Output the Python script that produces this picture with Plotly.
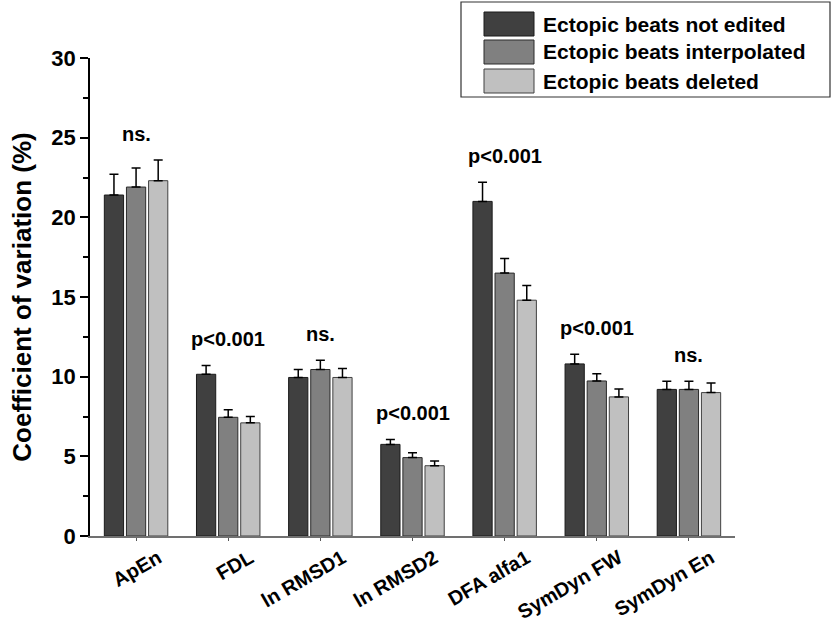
import plotly.graph_objects as go

categories = ["ApEn", "FDL", "ln RMSD1", "ln RMSD2", "DFA alfa1", "SymDyn FW", "SymDyn En"]
series_names = ["Ectopic beats not edited", "Ectopic beats interpolated", "Ectopic beats deleted"]
not_edited = [21.4, 10.15, 9.95, 5.75, 21.0, 10.8, 9.2]
not_edited_err = [1.3, 0.55, 0.5, 0.3, 1.2, 0.6, 0.52]
interpolated = [21.9, 7.45, 10.45, 4.92, 16.5, 9.73, 9.2]
interpolated_err = [1.2, 0.48, 0.58, 0.31, 0.92, 0.46, 0.52]
deleted = [22.3, 7.1, 9.95, 4.41, 14.8, 8.73, 9.0]
deleted_err = [1.3, 0.4, 0.57, 0.3, 0.92, 0.5, 0.6]
significance = ["ns.", "p<0.001", "ns.", "p<0.001", "p<0.001", "p<0.001", "ns."]
y_ticks = [0, 5, 10, 15, 20, 25, 30]

colors = ["#404040", "#808080", "#c0c0c0"]
outline = ["#1a1a1a", "#2a2a2a", "#404040"]
values = [not_edited, interpolated, deleted]
errors = [not_edited_err, interpolated_err, deleted_err]

FONT = "Liberation Sans, Arial, Helvetica, sans-serif"

W, H = 832, 625
ML, MR, MT, MB = 90, 97, 58, 89
PW, PH = W - ML - MR, H - MT - MB


def px_x(p):
    return (p - ML) / PW


def px_y(p):
    return (H - MB - p) / PH


fig = go.Figure()
for name, vals, errs, col, oc in zip(series_names, values, errors, colors, outline):
    fig.add_trace(go.Bar(
        x=categories, y=vals, name=name, showlegend=False,
        marker=dict(color=col, line=dict(color=oc, width=1)),
        error_y=dict(type="data", array=errs, arrayminus=[0] * len(errs),
                     symmetric=False, color="black", thickness=1.5, width=4.5),
    ))

for i, cat in enumerate(categories):
    top = max(v[i] + e[i] for v, e in zip(values, errors))
    fig.add_annotation(x=cat, y=top + 1.65, text=significance[i], showarrow=False,
                       yanchor="middle",
                       font=dict(family=FONT, size=20, color="black", weight="bold"))

# legend box (framed key with large swatches)
shapes = [dict(type="rect", xref="paper", yref="paper",
               x0=px_x(461), x1=px_x(830), y0=px_y(97), y1=px_y(2),
               line=dict(color="#333333", width=1.2), fillcolor="white", layer="above")]
row_tops = [12, 40, 69]
for name, col, oc, rt in zip(series_names, colors, outline, row_tops):
    shapes.append(dict(type="rect", xref="paper", yref="paper",
                       x0=px_x(484), x1=px_x(534), y0=px_y(rt + 24), y1=px_y(rt),
                       line=dict(color=oc, width=1), fillcolor=col, layer="above"))
    fig.add_annotation(xref="paper", yref="paper", x=px_x(541), y=px_y(rt + 12),
                       xanchor="left", yanchor="middle", text=name, showarrow=False,
                       font=dict(family=FONT, size=21, color="black", weight="bold"))

fig.update_layout(
    width=W, height=H,
    margin=dict(l=ML, r=MR, t=MT, b=MB, autoexpand=False),
    plot_bgcolor="white", paper_bgcolor="white",
    barmode="group", bargap=0.28, bargroupgap=0.13,
    font=dict(family=FONT, color="black"),
    showlegend=False,
    shapes=shapes,
    yaxis=dict(
        range=[0, 30], tickvals=y_ticks, ticks="outside", ticklen=8, tickwidth=1.5,
        tickcolor="black", showline=True, linecolor="black", linewidth=1.5,
        showgrid=False, zeroline=False,
        tickfont=dict(family=FONT, size=22, color="black", weight="bold"),
        title=dict(text="Coefficient of variation (%)", standoff=12,
                   font=dict(family=FONT, size=26, color="black", weight="bold")),
        minor=dict(dtick=2.5, ticks="outside", ticklen=5, tickcolor="black", tickwidth=1.5, showgrid=False),
    ),
    xaxis=dict(
        range=[-0.5, 6.5], ticks="outside", ticklen=3, tickcolor="#555555",
        showline=True, linecolor="#707070", linewidth=1.5, showgrid=False,
        tickangle=-30, ticklabelshift=22, ticklabelstandoff=-2,
        tickfont=dict(family=FONT, size=20, color="black", weight="bold"),
    ),
)

fig.write_html("out.html")
